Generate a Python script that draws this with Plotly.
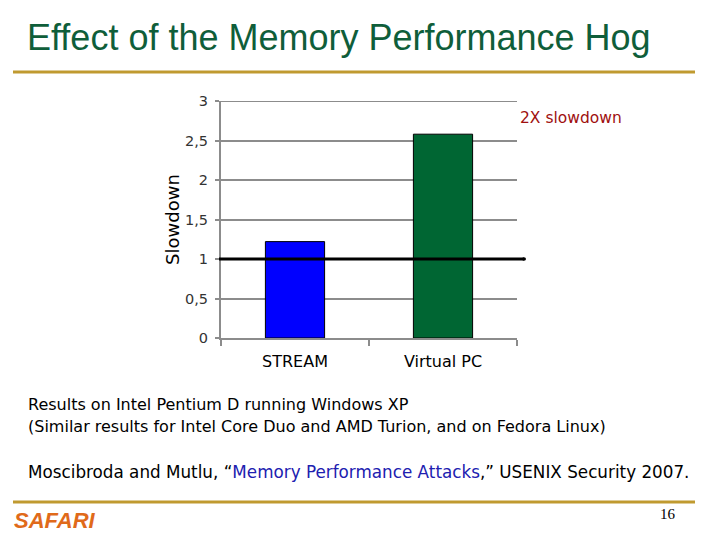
import plotly.graph_objects as go

categories = ["STREAM", "Virtual PC"]
slowdown = [1.22, 2.58]
bar_colors = ["#0000ff", "#006633"]
baseline = 1
y_ticks = [0, 0.5, 1, 1.5, 2, 2.5, 3]

W, H = 720, 540
L, R, T, B = 221, 517, 101, 338

def px(x):
    return (x - L) / (R - L)

def py(y):
    return (B - y) / (B - T)

BODY = "Tahoma, Verdana, DejaVu Sans, sans-serif"

fig = go.Figure()
fig.add_trace(go.Bar(
    x=categories, y=slowdown,
    marker=dict(color=bar_colors, line=dict(color="#000000", width=1)),
    width=0.4, showlegend=False,
))

# top gridline at y=3
fig.add_shape(type="line", xref="paper", yref="y", x0=0, x1=1, y0=3, y1=3,
              line=dict(color="#8c8c8c", width=2))

fig.add_shape(type="line", xref="paper", yref="y", x0=px(219), x1=px(524),
              y0=baseline, y1=baseline, line=dict(color="black", width=3))
fig.add_shape(type="circle", xref="paper", yref="y", x0=px(522), x1=px(526),
              y0=baseline - 0.022, y1=baseline + 0.022, fillcolor="black",
              line=dict(color="black", width=0))

# gold separator lines
for yy in (72, 502):
    fig.add_shape(type="line", xref="paper", yref="paper", x0=px(13), x1=px(695),
                  y0=py(yy), y1=py(yy), line=dict(color="#c09a30", width=3))

ann = [
    dict(text="Effect of the Memory Performance Hog", x=px(25), y=py(38), xanchor="left",
         yanchor="middle", font=dict(family="Liberation Sans, Arial", size=36, color="#0f5e3a")),
    dict(text="2X slowdown", x=px(518), y=py(118), xanchor="left", yanchor="middle",
         font=dict(family=BODY, size=15.5, color="#a01010")),
    dict(text="Results on Intel Pentium D running Windows XP", x=px(26), y=py(405),
         xanchor="left", yanchor="middle", font=dict(family=BODY, size=16, color="black")),
    dict(text="(Similar results for Intel Core Duo and AMD Turion, and on Fedora Linux)", x=px(26), y=py(426),
         xanchor="left", yanchor="middle", font=dict(family=BODY, size=16, color="black")),
    dict(text="Moscibroda and Mutlu, \u201c<span style='color:#2020b0'>Memory Performance Attacks</span>,\u201d USENIX Security 2007.",
         x=px(26), y=py(472), xanchor="left", yanchor="middle",
         font=dict(family=BODY, size=16.8, color="black")),
    dict(text="<b><i>SAFARI</i></b>", x=px(12), y=py(520), xanchor="left", yanchor="middle",
         font=dict(family="Liberation Sans, Arial", size=22, color="#e06a1a")),
    dict(text="16", x=px(678), y=py(514), xanchor="right", yanchor="middle",
         font=dict(family="Liberation Serif, Times New Roman", size=15, color="black")),
]
for a in ann:
    a.update(xref="paper", yref="paper", showarrow=False)
fig.update_layout(annotations=ann)

fig.update_layout(
    width=W, height=H,
    margin=dict(l=L, r=W - R, t=T, b=H - B),
    paper_bgcolor="white", plot_bgcolor="white",
    separators=", ",
    bargap=0.6,
    font=dict(family=BODY, size=14, color="black"),
)
fig.update_yaxes(
    range=[0, 3], tickvals=y_ticks, showgrid=True, gridcolor="#8c8c8c", gridwidth=2,
    showline=True, linecolor="#8c8c8c", linewidth=2, ticks="outside", ticklen=4,
    tickcolor="#8c8c8c", tickwidth=2, ticklabelstandoff=4, zeroline=False,
    tickfont=dict(family=BODY, size=14.5, color="#333333"),
    title=dict(text="Slowdown", font=dict(family=BODY, size=18, color="black"), standoff=1),
)
fig.update_xaxes(
    showline=True, linecolor="#8c8c8c", linewidth=2, ticks="outside", tickson="boundaries",
    ticklen=6, tickcolor="#8c8c8c", tickwidth=2, ticklabelstandoff=8,
    tickfont=dict(family=BODY, size=16, color="black"),
)

fig.write_html("out.html")
